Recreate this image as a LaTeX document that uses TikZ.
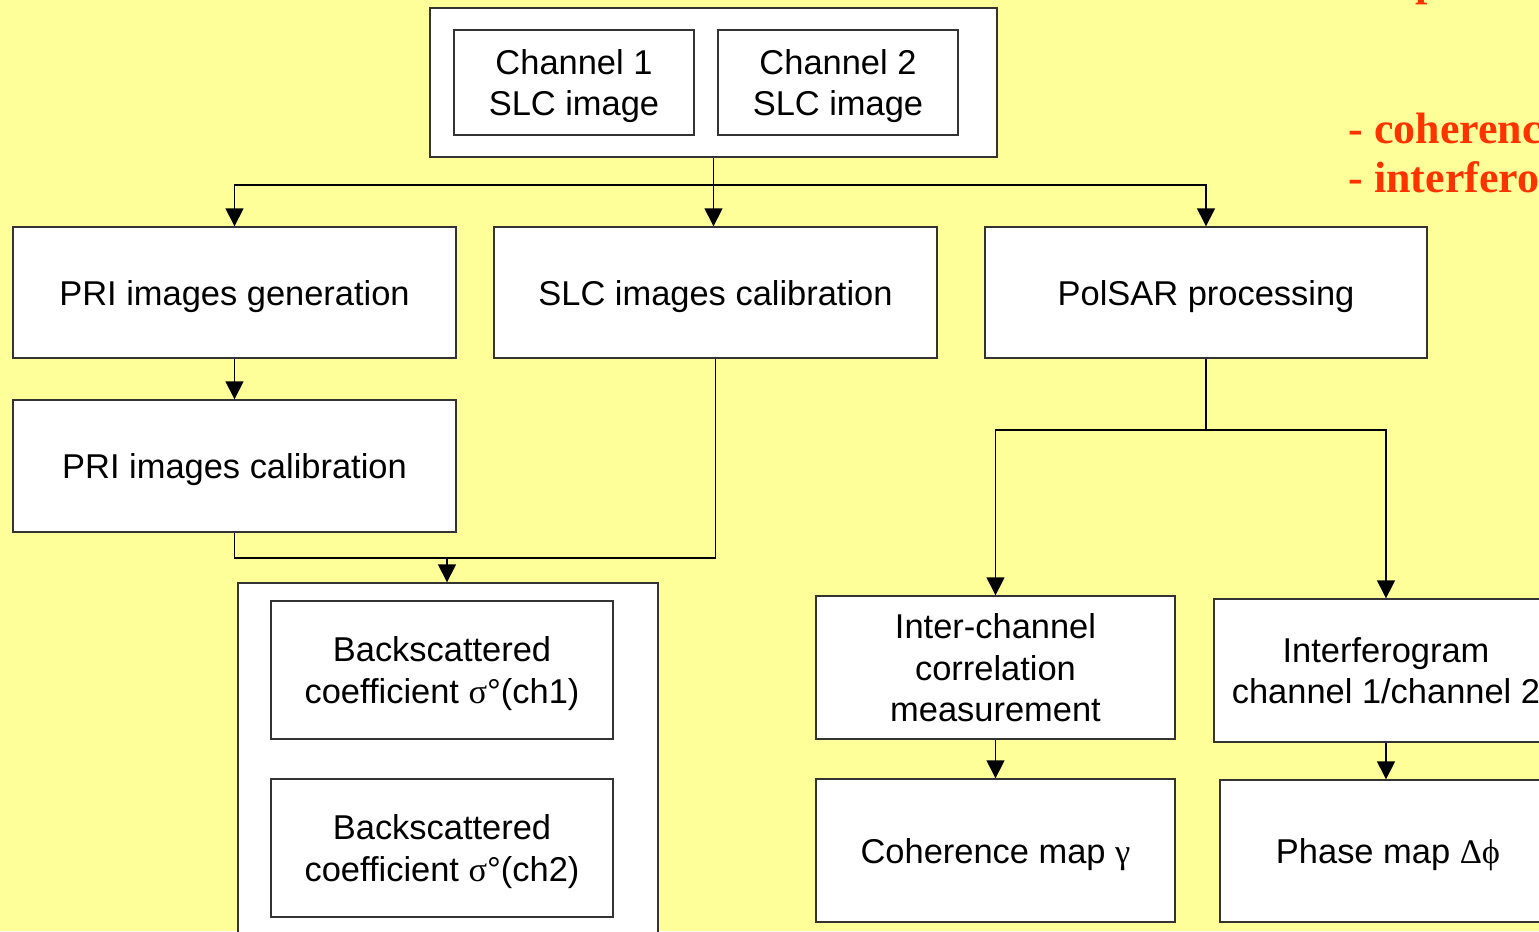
\documentclass[tikz,border=0pt]{standalone}
\usepackage{fontspec}
\setmainfont{Liberation Sans}
\newfontfamily\serifred{Liberation Serif}
\usetikzlibrary{arrows.meta}
\definecolor{slidebg}{RGB}{255,255,153}
\definecolor{slidered}{RGB}{255,51,0}
\tikzset{
  box/.style={draw=black!80,fill=white,line width=0.4pt,align=center,inner sep=0pt,
    text depth=0pt,font=\fontsize{9.8}{11.7}\selectfont},
  frame/.style={draw=black!80,fill=white,line width=0.4pt,inner sep=0pt},
  arr/.style={-{Triangle[width=1.8mm,length=1.8mm]},line width=0.4pt},
  link/.style={line width=0.4pt},
  redtext/.style={anchor=base west,inner sep=0pt,text=slidered,font=\serifred\bfseries\fontsize{12.5}{15}\selectfont}
}
\begin{document}
\begin{tikzpicture}
                \useasboundingbox (0,0) rectangle (15.39,-9.31);
                \clip (0,0) rectangle (15.39,-9.31);
                \fill[slidebg] (0,0) rectangle (15.39,-9.31);
                \node[frame,minimum width=5.67cm,minimum height=1.49cm] (top) at (7.135,-0.825) {};
                \node[box,minimum width=2.40cm,minimum height=1.05cm] (ch1) at (5.74,-0.825) {Channel 1\\SLC image};
                \node[box,minimum width=2.40cm,minimum height=1.05cm] (ch2) at (8.38,-0.825) {Channel 2\\SLC image};
                \node[box,minimum width=4.43cm,minimum height=1.31cm] (prigen) at (2.345,-2.925) {PRI images generation};
                \node[box,minimum width=4.43cm,minimum height=1.31cm] (slccal) at (7.155,-2.925) {SLC images calibration};
                \node[box,minimum width=4.42cm,minimum height=1.31cm] (polsar) at (12.06,-2.925) {PolSAR processing};
                \node[box,minimum width=4.43cm,minimum height=1.32cm] (prical) at (2.345,-4.66) {PRI images calibration};
                \node[frame,minimum width=4.20cm,minimum height=3.62cm] (sigbox) at (4.48,-7.64) {};
                \node[box,minimum width=3.42cm,minimum height=1.38cm] (sig1) at (4.42,-6.70) {Backscattered\\coefficient {\serifred σ}°(ch1)};
                \node[box,minimum width=3.42cm,minimum height=1.38cm] (sig2) at (4.42,-8.48) {Backscattered\\coefficient {\serifred σ}°(ch2)};
                \node[box,minimum width=3.59cm,minimum height=1.43cm] (corr) at (9.955,-6.675) {Inter-channel\\correlation\\measurement};
                \node[box,minimum width=3.44cm,minimum height=1.43cm] (interf) at (13.86,-6.705) {Interferogram\\channel 1/channel 2};
                \node[box,minimum width=3.59cm,minimum height=1.43cm] (coh) at (9.955,-8.505) {Coherence map {\serifred γ}};
                \node[box,minimum width=3.36cm,minimum height=1.42cm] (phase) at (13.88,-8.51) {Phase map {\serifred Δϕ}};
                \coordinate (split1) at (7.135,-1.85);
                \coordinate (merge) at (4.47,-5.58);
                \coordinate (split2) at (12.06,-4.30);
                \draw[link] (top.south) -- (split1);
                \draw[arr] (split1) -| (prigen.north);
                \draw[arr] (split1) -- (split1 |- slccal.north);
                \draw[arr] (split1) -| (polsar.north);
                \draw[arr] (prigen) -- (prical);
                \draw[link] (prical.south) |- (merge);
                \draw[link] (slccal.south) |- (merge);
                \draw[arr] (merge) -- (merge |- sigbox.north);
                \draw[link] (polsar.south) -- (split2);
                \draw[arr] (split2) -| (corr.north);
                \draw[arr] (split2) -| (interf.north);
                \draw[arr] (corr) -- (coh);
                \draw[arr] (interf.south) -- (interf.south |- phase.north);
                \node[redtext] (redp) at (14.15,0.05) {p};
                \node[redtext] (redcoh) at (13.48,-1.43) {- coherence};
                \node[redtext] (redint) at (13.48,-1.92) {- interferogram};
            \end{tikzpicture}
\end{document}
